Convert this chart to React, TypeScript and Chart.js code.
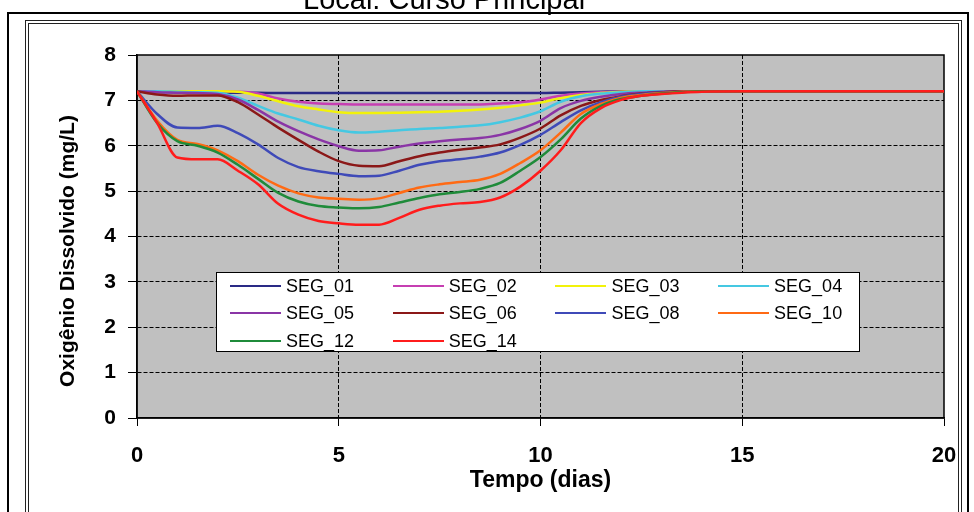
import React, { useEffect, useRef } from "react";
import { Chart, registerables } from "chart.js";

Chart.register(...registerables);

// ---- data ----
const DAYS = [0, 0.5, 1, 1.5, 2, 2.5, 3, 3.5, 4, 4.5, 5, 5.5, 6, 6.5, 7, 7.5, 8, 8.5, 9, 9.5, 10, 10.5, 11, 11.5, 12, 12.5, 13, 13.5, 14, 15, 16, 17, 18, 19, 20];

const SEG_01 = [7.2, 7.19, 7.18, 7.18, 7.17, 7.17, 7.17, 7.16, 7.16, 7.16, 7.16, 7.16, 7.16, 7.16, 7.16, 7.16, 7.16, 7.16, 7.16, 7.16, 7.16, 7.17, 7.18, 7.19, 7.2, 7.2, 7.2, 7.2, 7.2, 7.2, 7.2, 7.2, 7.2, 7.2, 7.2];
const SEG_02 = [7.2, 7.2, 7.2, 7.2, 7.2, 7.19, 7.15, 7.04, 6.97, 6.93, 6.92, 6.91, 6.91, 6.91, 6.91, 6.91, 6.91, 6.91, 6.93, 6.96, 7.02, 7.1, 7.15, 7.18, 7.19, 7.2, 7.2, 7.2, 7.2, 7.2, 7.2, 7.2, 7.2, 7.2, 7.2];
const SEG_03 = [7.2, 7.2, 7.2, 7.2, 7.2, 7.19, 7.1, 6.98, 6.87, 6.8, 6.74, 6.72, 6.72, 6.73, 6.74, 6.75, 6.77, 6.8, 6.84, 6.89, 6.95, 7.05, 7.12, 7.16, 7.19, 7.2, 7.2, 7.2, 7.2, 7.2, 7.2, 7.2, 7.2, 7.2, 7.2];
const SEG_04 = [7.2, 7.2, 7.19, 7.18, 7.17, 7.06, 6.88, 6.71, 6.58, 6.44, 6.34, 6.29, 6.31, 6.34, 6.37, 6.39, 6.42, 6.45, 6.52, 6.62, 6.76, 6.97, 7.09, 7.15, 7.18, 7.2, 7.2, 7.2, 7.2, 7.2, 7.2, 7.2, 7.2, 7.2, 7.2];
const SEG_05 = [7.2, 7.18, 7.17, 7.16, 7.14, 7.02, 6.79, 6.53, 6.32, 6.14, 5.99, 5.89, 5.9, 5.98, 6.05, 6.1, 6.14, 6.17, 6.24, 6.37, 6.55, 6.83, 6.99, 7.08, 7.14, 7.17, 7.19, 7.2, 7.2, 7.2, 7.2, 7.2, 7.2, 7.2, 7.2];
const SEG_06 = [7.2, 7.13, 7.1, 7.11, 7.11, 6.96, 6.69, 6.4, 6.13, 5.87, 5.66, 5.56, 5.55, 5.66, 5.77, 5.85, 5.91, 5.96, 6.03, 6.18, 6.38, 6.67, 6.88, 7.01, 7.09, 7.15, 7.18, 7.2, 7.2, 7.2, 7.2, 7.2, 7.2, 7.2, 7.2];
const SEG_08 = [7.2, 6.7, 6.4, 6.39, 6.44, 6.28, 6.03, 5.73, 5.53, 5.44, 5.38, 5.33, 5.34, 5.45, 5.58, 5.66, 5.7, 5.76, 5.85, 6.02, 6.24, 6.52, 6.78, 6.96, 7.08, 7.14, 7.17, 7.19, 7.2, 7.2, 7.2, 7.2, 7.2, 7.2, 7.2];
const SEG_10 = [7.2, 6.55, 6.13, 6.04, 5.9, 5.66, 5.36, 5.12, 4.95, 4.86, 4.83, 4.81, 4.84, 4.96, 5.08, 5.15, 5.2, 5.25, 5.38, 5.62, 5.9, 6.29, 6.7, 6.92, 7.06, 7.12, 7.16, 7.19, 7.2, 7.2, 7.2, 7.2, 7.2, 7.2, 7.2];
const SEG_12 = [7.2, 6.5, 6.1, 6.0, 5.85, 5.58, 5.27, 4.96, 4.77, 4.67, 4.64, 4.62, 4.65, 4.75, 4.85, 4.93, 4.98, 5.05, 5.18, 5.45, 5.75, 6.14, 6.6, 6.88, 7.03, 7.1, 7.15, 7.18, 7.2, 7.2, 7.2, 7.2, 7.2, 7.2, 7.2];
const SEG_14 = [7.2, 6.5, 5.74, 5.7, 5.7, 5.45, 5.15, 4.72, 4.48, 4.34, 4.29, 4.26, 4.26, 4.41, 4.59, 4.68, 4.73, 4.76, 4.86, 5.1, 5.45, 5.9, 6.5, 6.83, 7.01, 7.1, 7.14, 7.17, 7.19, 7.2, 7.2, 7.2, 7.2, 7.2, 7.2];

const SERIES_NAMES = ["SEG_01", "SEG_02", "SEG_03", "SEG_04", "SEG_05", "SEG_06", "SEG_08", "SEG_10", "SEG_12", "SEG_14"];
const SERIES_VALUES = [SEG_01, SEG_02, SEG_03, SEG_04, SEG_05, SEG_06, SEG_08, SEG_10, SEG_12, SEG_14];
const SERIES_COLORS = ["#2a2a86", "#c63fb2", "#f2f20a", "#45c8e2", "#8a35a6", "#8b1818", "#3f4ab8", "#ff6a14", "#1f8b3a", "#ff1c1c"];

const TITLE = "Local: Curso Principal";
const X_TITLE = "Tempo (dias)";
const Y_TITLE = "Oxigênio Dissolvido (mg/L)";
const X_MIN = 0, X_MAX = 20, X_STEP = 5;
const Y_MIN = 0, Y_MAX = 8, Y_STEP = 1;

const FONT = '"Liberation Sans", Arial, sans-serif';

export default function App() {
  const ref = useRef<HTMLCanvasElement>(null);

  useEffect(() => {
    const canvas = ref.current;
    if (!canvas) return;

    const plotFrame = {
      id: "plotFrame",
      beforeDraw(chart: any) {
        const { ctx, chartArea: a } = chart;
        ctx.save();
        ctx.fillStyle = "#c0c0c0";
        ctx.fillRect(a.left, a.top, a.right - a.left, a.bottom - a.top);
        ctx.restore();
      },
      beforeDatasetsDraw(chart: any) {
        const { ctx, chartArea: a } = chart;
        ctx.save();
        ctx.strokeStyle = "#000";
        ctx.lineWidth = 1.5;
        ctx.strokeRect(a.left, a.top, a.right - a.left, a.bottom - a.top);
        ctx.restore();
      },
    };

    const n = SERIES_NAMES.length;
    const chart = new Chart(canvas, {
      type: "line",
      data: {
        datasets: SERIES_NAMES.map((name, i) => ({
          label: name,
          data: DAYS.map((d, k) => ({ x: d, y: SERIES_VALUES[i][k] })),
          borderColor: SERIES_COLORS[i],
          backgroundColor: SERIES_COLORS[i],
          borderWidth: 2.5,
          pointRadius: 0,
          cubicInterpolationMode: "monotone" as const,
          fill: false,
          order: n - 1 - i,
        })),
      },
      options: {
        responsive: false,
        animation: false,
        devicePixelRatio: 1,
        layout: { padding: { left: 0, right: 30, top: 55, bottom: 0 } },
        plugins: {
          legend: { display: false },
          tooltip: { enabled: false },
          title: { display: false },
        },
        scales: {
          x: {
            type: "linear",
            min: X_MIN,
            max: X_MAX,
            ticks: {
              stepSize: X_STEP,
              color: "#000",
              padding: 17,
              maxRotation: 0,
              font: { family: FONT, size: 22, weight: "bold" },
            },
            grid: {
              color: (c: any) => (c.tick && (c.tick.value === X_MIN || c.tick.value === X_MAX) ? "rgba(0,0,0,0)" : "#000"),
              tickColor: "#000",
              tickLength: 8,
              lineWidth: 1,
            },
            border: { display: true, color: "#000", width: 1.5, dash: [4, 2] },
            title: {
              display: true,
              text: X_TITLE,
              color: "#000",
              font: { family: FONT, size: 23, weight: "bold" },
              padding: { top: 0, bottom: 18 },
            },
            afterFit(scale: any) {
              scale.height = 94;
            },
          },
          y: {
            type: "linear",
            min: Y_MIN,
            max: Y_MAX,
            ticks: {
              stepSize: Y_STEP,
              color: "#000",
              padding: 12,
              font: { family: FONT, size: 21, weight: "bold" },
            },
            grid: {
              color: (c: any) => (c.tick && (c.tick.value === Y_MIN || c.tick.value === Y_MAX) ? "rgba(0,0,0,0)" : "#000"),
              tickColor: "#000",
              tickLength: 9,
              lineWidth: 1,
            },
            border: { display: true, color: "#000", width: 1.5, dash: [4, 2] },
            afterFit(scale: any) {
              scale.width = 137;
            },
          },
        },
      },
      plugins: [plotFrame],
    });

    return () => chart.destroy();
  }, []);

  const colW = 162.7;
  const rowY = [13, 40, 68];

  return (
    <div style={{ position: "fixed", left: 0, top: 0, width: 974, height: 512, overflow: "hidden", background: "#fff", fontFamily: FONT }}>
      <canvas ref={ref} width={974} height={512} style={{ position: "absolute", left: 0, top: 0, width: 974, height: 512 }} />
      {/* outer frame */}
      <div style={{ position: "absolute", left: 7, top: 12, width: 962, height: 600, border: "2px solid #000", boxSizing: "border-box" }} />
      {/* inner double frame */}
      <div style={{ position: "absolute", left: 25, top: 20, width: 937, height: 600, border: "4px double #222", boxSizing: "border-box" }} />
      {/* page title (cut off at the top) */}
      <div style={{ position: "absolute", left: 303, top: -15, fontSize: 29, lineHeight: "29px", whiteSpace: "nowrap", color: "#000" }}>{TITLE}</div>
      {/* y-axis title */}
      <div
        style={{
          position: "absolute",
          left: 67,
          top: 251,
          transform: "translate(-50%, -50%) rotate(-90deg)",
          fontSize: 21,
          fontWeight: "bold",
          whiteSpace: "nowrap",
          color: "#000",
          lineHeight: "24px",
        }}
      >
        {Y_TITLE}
      </div>
      {/* legend */}
      <div style={{ position: "absolute", left: 216, top: 272, width: 644, height: 80, border: "1px solid #000", background: "#fff", boxSizing: "border-box" }}>
        {SERIES_NAMES.map((name, i) => {
          const col = i % 4;
          const row = Math.floor(i / 4);
          const x0 = 13 + col * colW;
          return (
            <React.Fragment key={name}>
              <div style={{ position: "absolute", left: x0, top: rowY[row] - 1.5, width: 51, height: 2.5, background: SERIES_COLORS[i] }} />
              <div style={{ position: "absolute", left: x0 + 56, top: rowY[row] - 11, fontSize: 18, lineHeight: "22px", whiteSpace: "nowrap", color: "#000" }}>{name}</div>
            </React.Fragment>
          );
        })}
      </div>
    </div>
  );
}
